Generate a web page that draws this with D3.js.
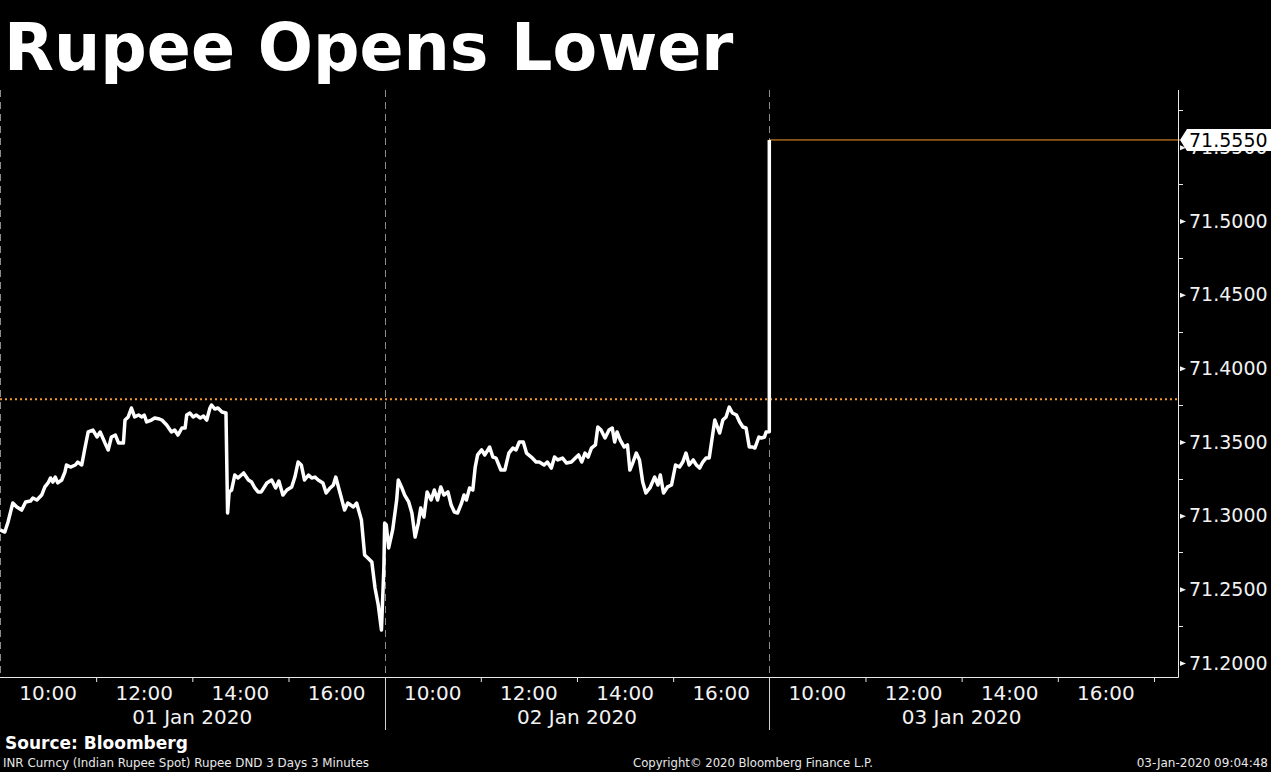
<!DOCTYPE html>
<html>
<head>
<meta charset="utf-8">
<script src="https://cdn.jsdelivr.net/npm/d3@7"></script>
<style>
  html, body { margin: 0; padding: 0; background: #000; }
  svg { display: block; }
</style>
</head>
<body>
<svg id="chart" width="1271" height="772"></svg>
<script>
// ---------------- DATA ----------------
const title = "Rupee Opens Lower";
const dayLabels = ["01 Jan 2020", "02 Jan 2020", "03 Jan 2020"];
const sessionOpen = "09:00";
const dayLengths = [480, 480, 510]; // minutes shown per session
const hourLabels = ["10:00", "12:00", "14:00", "16:00"];
const hourTicks = ["11:00", "13:00", "15:00", "17:00"];
const yTicks = [71.20, 71.25, 71.30, 71.35, 71.40, 71.45, 71.50, 71.55];
const yMinorTicks = [71.225, 71.275, 71.325, 71.375, 71.425, 71.475, 71.525, 71.575];
const prevClose = 71.379;
const lastValue = 71.555;

const day1Times = ["09:00","09:06","09:10","09:16","09:21","09:27","09:32","09:38","09:41","09:46","09:52","09:56",
  "10:00","10:03","10:06","10:09","10:12","10:17","10:21","10:23","10:28","10:34","10:37","10:42","10:46","10:50","10:56",
  "11:01","11:05","11:11","11:15","11:19","11:24","11:28","11:34","11:36","11:40","11:44","11:48","11:53","11:57",
  "12:00","12:03","12:09","12:13","12:19","12:22","12:28","12:34","12:38","12:42","12:47","12:51","12:53","12:57",
  "13:01","13:05","13:10","13:14","13:18","13:22","13:24","13:28","13:32","13:37","13:42","13:44","13:46","13:49","13:53","13:57",
  "14:04","14:10","14:14","14:18","14:22","14:26","14:33","14:39","14:44","14:48","14:53","14:58",
  "15:04","15:08","15:12","15:16","15:20","15:25","15:29","15:33","15:37","15:43","15:47","15:52","15:56","15:59",
  "16:04","16:10","16:14","16:21","16:25","16:31","16:35","16:39","16:44","16:48","16:52","16:56","16:59"];
const day1Values = [71.2903,71.2889,71.2957,71.3086,71.3059,71.3038,71.3093,71.3099,71.3120,71.3106,71.3140,71.3195,
  71.3222,71.3256,71.3228,71.3262,71.3222,71.3242,71.3296,71.3344,71.3330,71.3344,71.3364,71.3344,71.3459,71.3568,71.3581,
  71.3534,71.3568,71.3493,71.3446,71.3534,71.3547,71.3493,71.3493,71.3649,71.3670,71.3731,71.3670,71.3683,71.3670,
  71.3683,71.3636,71.3649,71.3663,71.3656,71.3649,71.3615,71.3568,71.3581,71.3547,71.3595,71.3595,71.3683,71.3697,
  71.3670,71.3683,71.3663,71.3676,71.3649,71.3731,71.3751,71.3724,71.3731,71.3704,71.3697,71.3018,71.3161,71.3174,71.3276,71.3256,
  71.3290,71.3242,71.3228,71.3188,71.3161,71.3161,71.3222,71.3242,71.3188,71.3235,71.3140,71.3174,
  71.3195,71.3262,71.3364,71.3344,71.3242,71.3276,71.3256,71.3262,71.3242,71.3222,71.3154,71.3188,71.3208,71.3262,
  71.3161,71.3038,71.3086,71.3059,71.3086,71.2971,71.2733,71.2713,71.2685,71.2509,71.2394,71.2224,71.2645];

const day2Times = ["09:00","09:02","09:05","09:10","09:15","09:17","09:21","09:25","09:30","09:34","09:38","09:42","09:45","09:49","09:53","09:58",
  "10:02","10:06","10:10","10:14","10:19","10:23","10:27","10:31","10:36","10:39","10:42","10:46","10:50","10:53","10:56",
  "11:01","11:05","11:11","11:15","11:19","11:25","11:30","11:35","11:40","11:44","11:48","11:53","11:57",
  "12:03","12:09","12:13","12:19","12:23","12:28","12:32","12:36","12:42","12:47","12:53","12:58",
  "13:02","13:06","13:10","13:14","13:18","13:23","13:26","13:30","13:35","13:40","13:44","13:47","13:50","13:54","13:59",
  "14:03","14:06","14:10","14:14","14:18","14:22","14:26","14:31","14:37","14:41","14:44","14:48","14:53","14:58",
  "15:03","15:08","15:12","15:16","15:20","15:25","15:29","15:33","15:37","15:41","15:45","15:52","15:58",
  "16:02","16:06","16:10","16:14","16:19","16:23","16:27","16:31","16:35","16:39","16:42","16:47","16:50","16:54","16:56","17:00"];
const day2Values = [71.2950,71.2937,71.2781,71.2903,71.3106,71.3242,71.3195,71.3140,71.3093,71.3018,71.2855,71.2950,71.3052,71.2991,71.3161,71.3106,
  71.3174,71.3106,71.3195,71.3140,71.3161,71.3072,71.3025,71.3018,71.3086,71.3140,71.3106,71.3188,71.3174,71.3330,71.3412,
  71.3446,71.3412,71.3466,71.3398,71.3391,71.3310,71.3310,71.3425,71.3459,71.3446,71.3500,71.3500,71.3425,
  71.3398,71.3364,71.3364,71.3344,71.3364,71.3323,71.3398,71.3378,71.3391,71.3357,71.3364,71.3391,
  71.3412,71.3364,71.3425,71.3398,71.3459,71.3480,71.3602,71.3581,71.3527,71.3581,71.3595,71.3500,71.3568,71.3513,71.3466,
  71.3480,71.3310,71.3364,71.3425,71.3378,71.3228,71.3154,71.3188,71.3262,71.3208,71.3276,71.3154,71.3195,71.3208,
  71.3344,71.3330,71.3364,71.3425,71.3344,71.3378,71.3344,71.3323,71.3364,71.3391,71.3391,71.3649,71.3561,
  71.3649,71.3670,71.3737,71.3697,71.3683,71.3636,71.3602,71.3595,71.3466,71.3466,71.3459,71.3534,71.3527,71.3534,71.3568,71.3570];

const day3Times = ["09:00"];
const day3Values = [71.555];

const footerSource = "Source: Bloomberg";
const footerDesc = "INR Curncy (Indian Rupee Spot) Rupee DND 3 Days 3 Minutes";
const footerCopy = "Copyright\u00A9 2020 Bloomberg Finance L.P.";
const footerStamp = "03-Jan-2020 09:04:48";

// ---------------- HELPERS ----------------
const toMin = s => { const [h, m] = s.split(":").map(Number); return h * 60 + m; };
const openMin = toMin(sessionOpen);
const dayOffsets = dayLengths.map((d, i) => d3.sum(dayLengths.slice(0, i)));
const sessionIndex = (dayIdx, t) => dayOffsets[dayIdx] + toMin(t) - openMin;

const W = 1271, H = 772;
const plot = { left: 0, right: 1178, top: 90, bottom: 677 };

const x = d3.scaleLinear().domain([0, d3.sum(dayLengths)]).range([plot.left, plot.right]);
const y = d3.scaleLinear().domain([71.20, 71.50]).range([663, 221]);

const svg = d3.select("#chart");
svg.append("rect").attr("width", W).attr("height", H).attr("fill", "#000");

const FONT = "'DejaVu Sans', Verdana, sans-serif";
const ORANGE = "#f49b2a";

// title
svg.append("text").attr("x", 4).attr("y", 70)
  .attr("fill", "#fff").attr("font-family", FONT).attr("font-weight", "bold")
  .attr("font-size", 65).text(title);

// day separators (dashed within plot, solid below axis)
const boundaries = dayOffsets.map(o => x(o));
svg.append("g").selectAll("line").data(boundaries).join("line")
  .attr("x1", d => Math.round(d) + 0.5).attr("x2", d => Math.round(d) + 0.5)
  .attr("y1", plot.top).attr("y2", plot.bottom)
  .attr("stroke", "#8a8a8a").attr("stroke-width", 1).attr("stroke-dasharray", "7,5");
svg.append("g").selectAll("line").data(boundaries.slice(1)).join("line")
  .attr("x1", d => Math.round(d) + 0.5).attr("x2", d => Math.round(d) + 0.5)
  .attr("y1", plot.bottom).attr("y2", 730)
  .attr("stroke", "#d0d0d0").attr("stroke-width", 1);

// previous close dotted line
svg.append("line")
  .attr("x1", plot.left).attr("x2", plot.right)
  .attr("y1", y(prevClose)).attr("y2", y(prevClose))
  .attr("stroke", ORANGE).attr("stroke-width", 2).attr("stroke-dasharray", "2,3");

// data
const series = [
  { t: day1Times, v: day1Values, d: 0 },
  { t: day2Times, v: day2Values, d: 1 },
  { t: day3Times, v: day3Values, d: 2 }
];
const pts = [];
series.forEach(s => s.t.forEach((t, i) => pts.push({ x: sessionIndex(s.d, t), v: s.v[i] })));

const last = pts[pts.length - 1];
// last value line
svg.append("line")
  .attr("x1", x(last.x)).attr("x2", plot.right + 2)
  .attr("y1", y(lastValue)).attr("y2", y(lastValue))
  .attr("stroke", ORANGE).attr("stroke-width", 1);

svg.append("path").datum(pts)
  .attr("d", d3.line().x(d => x(d.x)).y(d => y(d.v)))
  .attr("fill", "none").attr("stroke", "#fff").attr("stroke-width", 3.5)
  .attr("stroke-linejoin", "round").attr("stroke-linecap", "butt");

// right axis
const ya = svg.append("g").attr("transform", `translate(${plot.right},0)`);
ya.call(d3.axisRight(y).tickValues(yTicks).tickFormat(d3.format(".4f")).tickSize(0).tickPadding(11))
  .call(g => g.select(".domain").remove())
  .call(g => g.selectAll("text").attr("fill", "#f2f2f2").attr("font-family", FONT).attr("font-size", 19));
ya.selectAll(".tick").append("path").attr("d", "M2,-2.5 L8,0 L2,2.5 Z").attr("fill", "#f2f2f2");
ya.append("line").attr("x1", 0.5).attr("x2", 0.5).attr("y1", plot.top).attr("y2", plot.bottom + 0.5)
  .attr("stroke", "#e8e8e8").attr("stroke-width", 1);
ya.selectAll(".minor").data(yMinorTicks).join("line").attr("class", "minor")
  .attr("x1", 0).attr("x2", 5).attr("y1", d => Math.round(y(d)) + 0.5).attr("y2", d => Math.round(y(d)) + 0.5)
  .attr("stroke", "#e8e8e8").attr("stroke-width", 1);

// last value tag
const ly = y(lastValue);
const tag = svg.append("g").attr("transform", `translate(${plot.right + 2},${ly})`);
tag.append("path").attr("d", "M0,0 L7,-11 L93,-11 L93,11 L7,11 Z").attr("fill", "#fff");
tag.append("text").attr("x", 9).attr("y", 0).attr("dy", "0.35em")
  .attr("fill", "#000").attr("font-family", FONT).attr("font-size", 19)
  .text(d3.format(".4f")(lastValue));

// bottom axis
svg.append("line").attr("x1", plot.left).attr("x2", plot.right + 0.5)
  .attr("y1", plot.bottom + 0.5).attr("y2", plot.bottom + 0.5)
  .attr("stroke", "#e8e8e8").attr("stroke-width", 1);

const tickPos = [], labelPos = [];
dayLabels.forEach((d, i) => {
  hourTicks.forEach(t => { const v = sessionIndex(i, t); if (v < dayOffsets[i] + dayLengths[i] && v < x.domain()[1]) tickPos.push(v); });
  hourLabels.forEach(t => labelPos.push({ v: sessionIndex(i, t), t }));
});
const xa = svg.append("g").attr("transform", `translate(0,${plot.bottom})`);
xa.call(d3.axisBottom(x).tickValues(tickPos.filter(v => !dayOffsets.includes(v))).tickSize(5).tickFormat(""))
  .call(g => g.select(".domain").remove())
  .call(g => g.selectAll("line").attr("stroke", "#e8e8e8"));

svg.append("g").selectAll("text").data(labelPos).join("text")
  .attr("x", d => x(d.v)).attr("y", 700).attr("text-anchor", "middle")
  .attr("fill", "#f2f2f2").attr("font-family", FONT).attr("font-size", 20).text(d => d.t);

svg.append("g").selectAll("text").data(dayLabels).join("text")
  .attr("x", (d, i) => x(sessionIndex(i, "13:00"))).attr("y", 724).attr("text-anchor", "middle")
  .attr("fill", "#f2f2f2").attr("font-family", FONT).attr("font-size", 20).text(d => d);

// footer
svg.append("text").attr("x", 5).attr("y", 749).attr("fill", "#fff")
  .attr("font-family", FONT).attr("font-weight", "bold").attr("font-size", 17).text(footerSource);
svg.append("text").attr("x", 3).attr("y", 767).attr("fill", "#e8e8e8")
  .attr("font-family", FONT).attr("font-size", 12).attr("textLength", 366).attr("lengthAdjust", "spacingAndGlyphs").text(footerDesc);
svg.append("text").attr("x", 633).attr("y", 767).attr("fill", "#e8e8e8")
  .attr("font-family", FONT).attr("font-size", 12).attr("textLength", 240).attr("lengthAdjust", "spacingAndGlyphs").text(footerCopy);
svg.append("text").attr("x", 1268).attr("y", 767).attr("fill", "#e8e8e8").attr("text-anchor", "end")
  .attr("font-family", FONT).attr("font-size", 12).text(footerStamp);
</script>
</body>
</html>
